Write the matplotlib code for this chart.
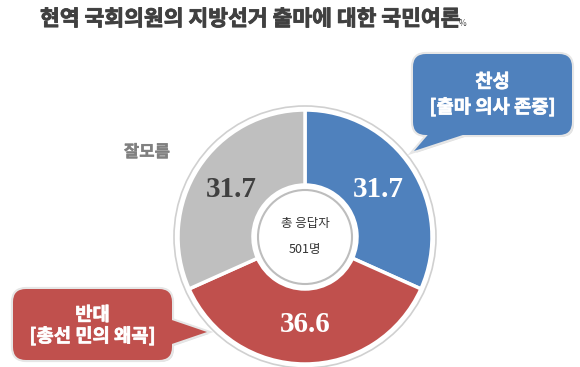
import numpy as np
import matplotlib
matplotlib.use('Agg')
import matplotlib.pyplot as plt
import matplotlib.patheffects as pe
from matplotlib.patches import FancyBboxPatch, Polygon, Circle

plt.rcParams['font.family'] = ['Noto Sans CJK KR', 'DejaVu Sans']

# 데이터
categories = ['찬성', '반대', '잘모름']
values = [31.7, 36.6, 31.7]
colors_ = ['#4F81BD', '#C0504D', '#BFBFBF']
label_colors = ['white', 'white', '#404040']
title = '현역 국회의원의 지방선거 출마에 대한 국민여론'
respondents = 501

W, H = 580, 367
fig = plt.figure(figsize=(W / 100, H / 100), dpi=100)
ax = fig.add_axes([0, 0, 1, 1])

def py(y):
    # pixel y (from top) -> data y
    return H - y

def bold(c, w=0.5):
    # fake bold: the CJK font here has only one weight
    return [pe.withStroke(linewidth=w, foreground=c)]

cx, cy = 305, py(237)
R = 127

# outer ring
ax.add_patch(Circle((cx, cy), R + 4, facecolor='white', edgecolor='#D0D0D0', lw=1.2, zorder=1))

wedges, texts, autotexts = ax.pie(
    values, colors=colors_, startangle=90, counterclock=False,
    radius=R, center=(cx, cy), autopct='%.1f', pctdistance=0.69,
    wedgeprops=dict(width=R - 52, edgecolor='white', linewidth=2.5),
    textprops=dict(family='Liberation Serif', fontweight='bold', fontsize=21))
for w in wedges:
    w.set_zorder(2)
for t, c in zip(autotexts, label_colors):
    t.set_color(c)
    t.set_zorder(3)

# inner circle
ax.add_patch(Circle((cx, cy), 47, facecolor='white', edgecolor='#BDBDBD', lw=1.5, zorder=3))
ax.text(cx, py(223), '총 응답자', ha='center', va='center', fontsize=9, color='#333333', zorder=4)
ax.text(cx, py(250), f'{respondents}명', ha='center', va='center', fontsize=9, color='#333333', zorder=4)

# title
ax.text(40, py(19), title, ha='left', va='center', fontsize=15.5, fontweight='bold',
        color='#404040', path_effects=bold('#404040', 0.6))
ax.text(459, py(24), '%', ha='left', va='center', fontsize=6, color='#404040')

# callouts
def callout(x0, y0, x1, y1, tail, color, lines):
    box = dict(boxstyle='round,pad=0,rounding_size=13')
    # shadow
    ax.add_patch(FancyBboxPatch((x0 + 2, py(y1) - 2), x1 - x0, y1 - y0, facecolor='#000000',
                                alpha=0.12, edgecolor='none', zorder=4, **box))
    tail_pts = [(x, py(y)) for x, y in tail]
    ax.add_patch(Polygon([(x + 2, y - 2) for x, y in tail_pts], facecolor='#000000',
                         alpha=0.12, edgecolor='none', zorder=4))
    # outline
    ax.add_patch(FancyBboxPatch((x0, py(y1)), x1 - x0, y1 - y0, facecolor=color,
                                edgecolor='#E6E6E6', lw=3, zorder=5, **box))
    ax.add_patch(Polygon(tail_pts, facecolor=color, edgecolor='#E6E6E6', lw=3, zorder=5))
    # fill
    ax.add_patch(FancyBboxPatch((x0, py(y1)), x1 - x0, y1 - y0, facecolor=color,
                                edgecolor='none', zorder=6, **box))
    ax.add_patch(Polygon(tail_pts, facecolor=color, edgecolor='none', zorder=6))
    xm = (x0 + x1) / 2
    for (txt, yy) in lines:
        ax.text(xm, py(yy), txt, ha='center', va='center', fontsize=13.5,
                fontweight='bold', color='white', zorder=7, path_effects=bold('white', 0.5))

callout(413, 54, 572, 135, [(432, 130), (478, 130), (414, 151)], colors_[0],
        [(categories[0], 82), ('[출마 의사 존중]', 107)])
callout(13, 289, 172, 360, [(166, 318), (166, 346), (207, 332)], colors_[1],
        [(categories[1], 315), ('[총선 민의 왜곡]', 336)])

ax.text(147, py(152), categories[2], ha='center', va='center', fontsize=12,
        fontweight='bold', color='#808080', path_effects=bold('#808080', 0.3))

ax.set_xlim(0, W)
ax.set_ylim(0, H)
ax.set_aspect('auto')
ax.axis('off')
fig.savefig('out.png', dpi=100)
